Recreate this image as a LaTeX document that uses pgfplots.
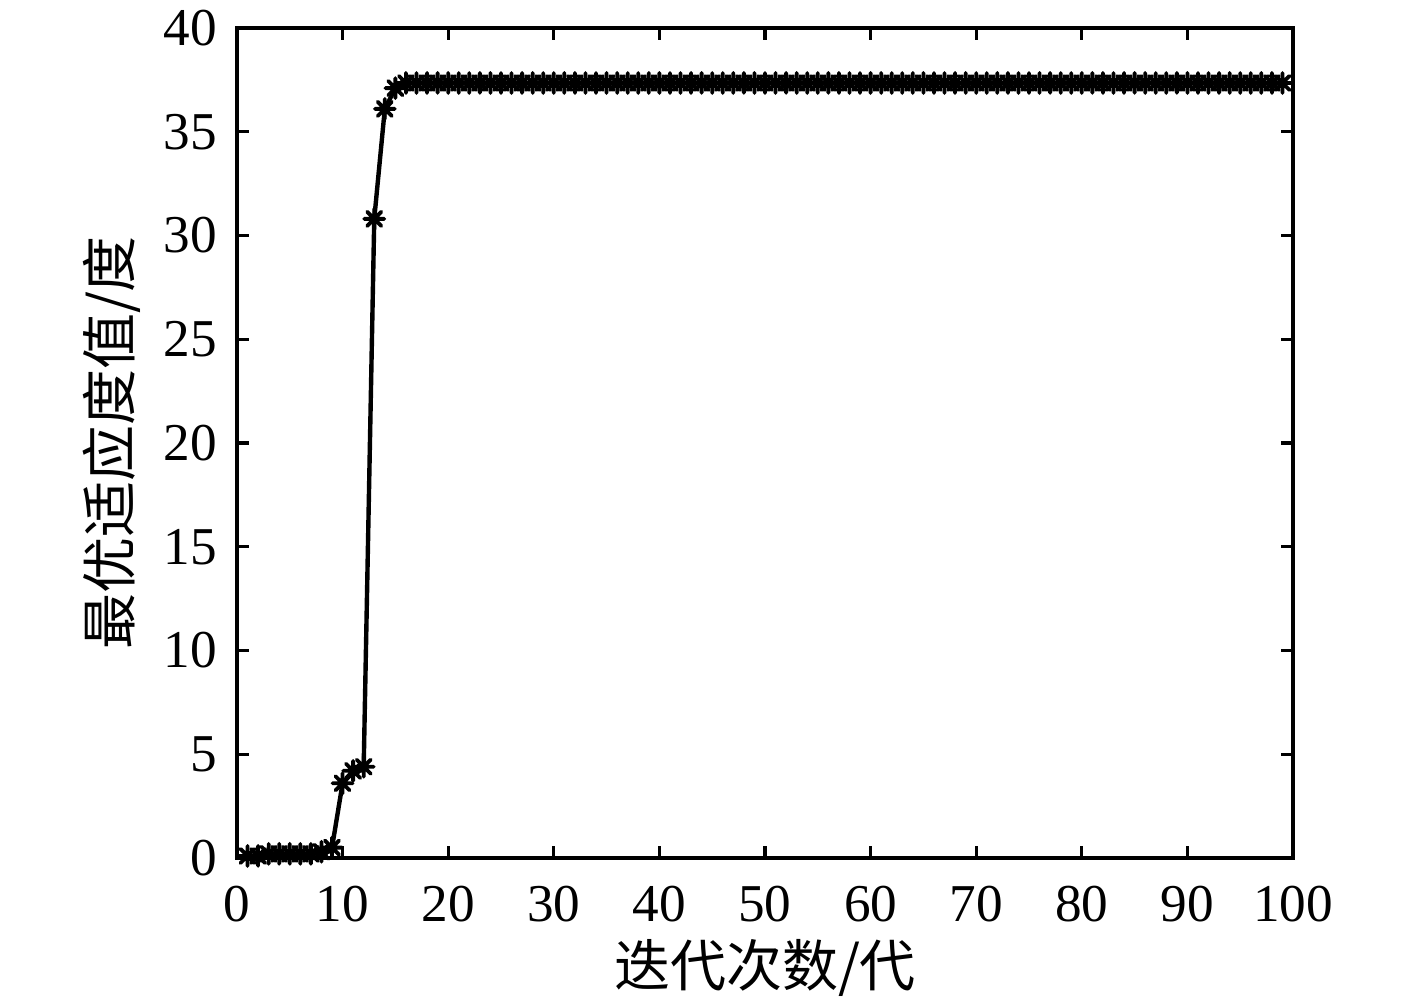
\documentclass[border=0pt]{standalone}
\usepackage{pgfplots}
\pgfplotsset{compat=1.18}
\usepackage{fontspec}
\setmainfont{Liberation Serif}
\newfontfamily\cjk{Noto Sans CJK SC}
\pgfdeclareplotmark{star8}{%
  \pgfpathmoveto{\pgfqpoint{-\pgfplotmarksize}{0pt}}\pgfpathlineto{\pgfqpoint{\pgfplotmarksize}{0pt}}%
  \pgfpathmoveto{\pgfqpoint{0pt}{-\pgfplotmarksize}}\pgfpathlineto{\pgfqpoint{0pt}{\pgfplotmarksize}}%
  \pgfpathmoveto{\pgfqpoint{-0.707\pgfplotmarksize}{-0.707\pgfplotmarksize}}\pgfpathlineto{\pgfqpoint{0.707\pgfplotmarksize}{0.707\pgfplotmarksize}}%
  \pgfpathmoveto{\pgfqpoint{-0.707\pgfplotmarksize}{0.707\pgfplotmarksize}}\pgfpathlineto{\pgfqpoint{0.707\pgfplotmarksize}{-0.707\pgfplotmarksize}}%
  \pgfusepathqstroke}
\begin{document}
\begin{tikzpicture}
\begin{axis}[
  scale only axis, width=264pt, height=207.5pt,
  xmin=0, xmax=100, ymin=0, ymax=40,
  xtick={0,10,...,100}, ytick={0,5,...,40},
  tick align=inside, major tick length=3pt,
  axis line style={line width=0.8pt}, every tick/.style={line width=0.8pt, black},
  tick label style={font=\fontsize{13.3}{13.3}\selectfont},
  xticklabel style={yshift=-3.5pt},
  yticklabel style={xshift=-1.5pt},
  /pgf/number format/assume math mode=true,
  xlabel={\cjk\fontsize{14}{14}\selectfont 迭代次数/代},
  ylabel={\cjk\fontsize{14}{14}\selectfont 最优适应度值/度},
  xlabel style={yshift=2.5pt},
  ylabel style={yshift=-1.2pt},
  clip=false,
]
\addplot[black, line width=1.1pt, mark=star8, mark size=2.5pt, mark options={line width=0.95pt, line cap=round}] coordinates {
(1,0.1)(2,0.1)(3,0.2)(4,0.2)(5,0.2)(6,0.2)(7,0.2)(8,0.3)(9,0.5)
(10,3.6)(11,4.2)(12,4.4)(13,30.8)(14,36.1)(15,37.1)(16,37.35)(17,37.35)(18,37.35)(19,37.35)
(20,37.35)(21,37.35)(22,37.35)(23,37.35)(24,37.35)(25,37.35)(26,37.35)(27,37.35)(28,37.35)(29,37.35)
(30,37.35)(31,37.35)(32,37.35)(33,37.35)(34,37.35)(35,37.35)(36,37.35)(37,37.35)(38,37.35)(39,37.35)
(40,37.35)(41,37.35)(42,37.35)(43,37.35)(44,37.35)(45,37.35)(46,37.35)(47,37.35)(48,37.35)(49,37.35)
(50,37.35)(51,37.35)(52,37.35)(53,37.35)(54,37.35)(55,37.35)(56,37.35)(57,37.35)(58,37.35)(59,37.35)
(60,37.35)(61,37.35)(62,37.35)(63,37.35)(64,37.35)(65,37.35)(66,37.35)(67,37.35)(68,37.35)(69,37.35)
(70,37.35)(71,37.35)(72,37.35)(73,37.35)(74,37.35)(75,37.35)(76,37.35)(77,37.35)(78,37.35)(79,37.35)
(80,37.35)(81,37.35)(82,37.35)(83,37.35)(84,37.35)(85,37.35)(86,37.35)(87,37.35)(88,37.35)(89,37.35)
(90,37.35)(91,37.35)(92,37.35)(93,37.35)(94,37.35)(95,37.35)(96,37.35)(97,37.35)(98,37.35)(99,37.35)
};
\coordinate (bl) at (rel axis cs:-0.2244,-0.1759);
\coordinate (tr) at (rel axis cs:1.1174,1.0337);
\end{axis}
\pgfresetboundingbox
\path[use as bounding box] (bl) rectangle (tr);
\end{tikzpicture}
\end{document}
